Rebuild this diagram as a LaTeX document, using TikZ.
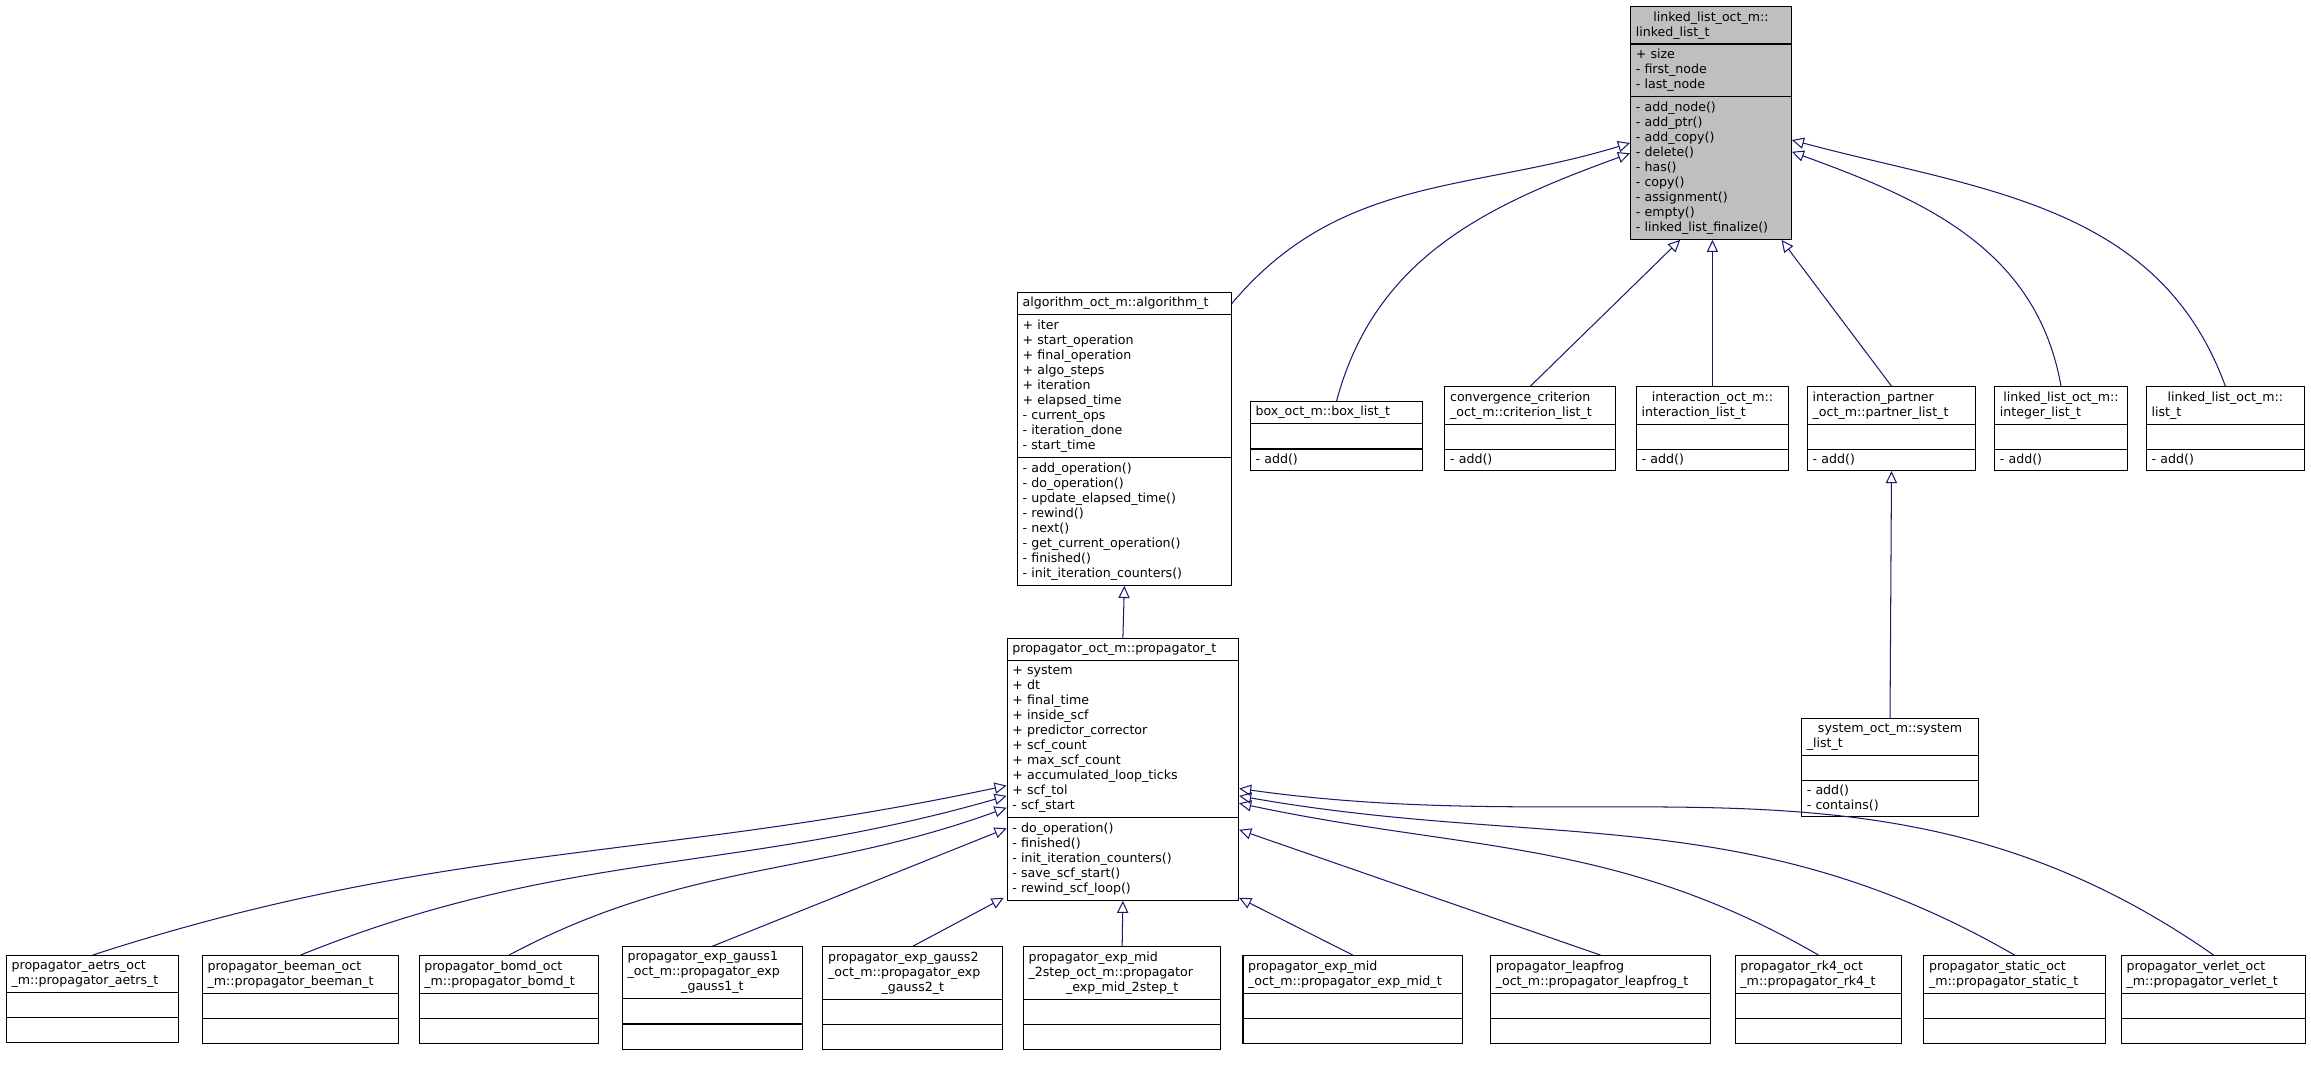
\documentclass[tikz,border=0pt]{standalone}
\usepackage{fontspec}
\setmainfont{DejaVu Sans}
\usetikzlibrary{shapes.multipart,arrows.meta,calc}
\definecolor{edgeblue}{HTML}{191970}
\definecolor{hlgray}{HTML}{BFBFBF}
\newcommand{\midline}[1]{\par{\centering #1\par}}
\tikzset{
	cls/.style={draw,line width=0.6pt,rectangle split,rectangle split parts=3,anchor=north west,
		align=left,inner xsep=3pt,inner ysep=2.6pt,
		font={\fontsize{7.3}{8.7}\selectfont},fill=white},
	inh/.style={edgeblue,line width=0.6pt,-{Triangle[open,length=7pt,width=6.5pt]}}
}
\begin{document}
\begin{tikzpicture}[x=0.03cm,y=-0.03cm]
	\useasboundingbox (0,0) rectangle (1568,723);
	% base class
	\node[cls,fill=hlgray,text width=3.06cm] (ll) at (1106,4) {\centering linked\_list\_oct\_m::\par linked\_list\_t
		\nodepart{two}+ size\\- first\_node\\- last\_node
		\nodepart{three}- add\_node()\\- add\_ptr()\\- add\_copy()\\- delete()\\- has()\\- copy()\\- assignment()\\- empty()\\- linked\_list\_finalize()};
	\node[cls,text width=4.14cm] (alg) at (690,198) {\centering algorithm\_oct\_m::algorithm\_t
		\nodepart{two}+ iter\\+ start\_operation\\+ final\_operation\\+ algo\_steps\\+ iteration\\+ elapsed\_time\\- current\_ops\\- iteration\_done\\- start\_time
		\nodepart{three}- add\_operation()\\- do\_operation()\\- update\_elapsed\_time()\\- rewind()\\- next()\\- get\_current\_operation()\\- finished()\\- init\_iteration\_counters()};
	\node[cls,text width=3.30cm] (box) at (848,272) {\centering box\_oct\_m::box\_list\_t \nodepart{two}\strut \nodepart{three}- add()};
	\node[cls,text width=3.27cm] (conv) at (980,262) {convergence\_criterion\\\_oct\_m::criterion\_list\_t \nodepart{two}\strut \nodepart{three}- add()};
	\node[cls,text width=2.88cm] (inter) at (1110,262) {\centering interaction\_oct\_m::\par interaction\_list\_t \nodepart{two}\strut \nodepart{three}- add()};
	\node[cls,text width=3.21cm] (partner) at (1226,262) {interaction\_partner\\\_oct\_m::partner\_list\_t \nodepart{two}\strut \nodepart{three}- add()};
	\node[cls,text width=2.49cm] (intlist) at (1353,262) {\centering linked\_list\_oct\_m::\par integer\_list\_t \nodepart{two}\strut \nodepart{three}- add()};
	\node[cls,text width=3.00cm] (list) at (1456,262) {\centering linked\_list\_oct\_m::\par list\_t \nodepart{two}\strut \nodepart{three}- add()};
	\node[cls,text width=3.39cm] (sys) at (1222,487) {\centering system\_oct\_m::system\par \_list\_t \nodepart{two}\strut \nodepart{three}- add()\\- contains()};
	\node[cls,text width=4.50cm] (prop) at (683,433) {\centering propagator\_oct\_m::propagator\_t
		\nodepart{two}+ system\\+ dt\\+ final\_time\\+ inside\_scf\\+ predictor\_corrector\\+ scf\_count\\+ max\_scf\_count\\+ accumulated\_loop\_ticks\\+ scf\_tol\\- scf\_start
		\nodepart{three}- do\_operation()\\- finished()\\- init\_iteration\_counters()\\- save\_scf\_start()\\- rewind\_scf\_loop()};
	% propagators
	\node[cls,text width=3.30cm] (aetrs) at (4,648) {propagator\_aetrs\_oct\\\_m::propagator\_aetrs\_t \nodepart{two}\strut \nodepart{three}\strut};
	\node[cls,text width=3.78cm] (beeman) at (137,648) {propagator\_beeman\_oct\\\_m::propagator\_beeman\_t \nodepart{two}\strut \nodepart{three}\strut};
	\node[cls,text width=3.45cm] (bomd) at (284,648) {propagator\_bomd\_oct\\\_m::propagator\_bomd\_t \nodepart{two}\strut \nodepart{three}\strut};
	\node[cls,text width=3.45cm] (gaussone) at (422,642) {propagator\_exp\_gauss1\\\_oct\_m::propagator\_exp\midline{\_gauss1\_t} \nodepart{two}\strut \nodepart{three}\strut};
	\node[cls,text width=3.45cm] (gausstwo) at (558,642) {propagator\_exp\_gauss2\\\_oct\_m::propagator\_exp\midline{\_gauss2\_t} \nodepart{two}\strut \nodepart{three}\strut};
	\node[cls,text width=3.81cm] (midtwo) at (694,642) {propagator\_exp\_mid\\\_2step\_oct\_m::propagator\midline{\_exp\_mid\_2step\_t} \nodepart{two}\strut \nodepart{three}\strut};
	\node[cls,text width=4.26cm] (expmid) at (843,648) {propagator\_exp\_mid\\\_oct\_m::propagator\_exp\_mid\_t \nodepart{two}\strut \nodepart{three}\strut};
	\node[cls,text width=4.26cm] (leap) at (1011,648) {propagator\_leapfrog\\\_oct\_m::propagator\_leapfrog\_t \nodepart{two}\strut \nodepart{three}\strut};
	\node[cls,text width=3.18cm] (rkfour) at (1177,648) {propagator\_rk4\_oct\\\_m::propagator\_rk4\_t \nodepart{two}\strut \nodepart{three}\strut};
	\node[cls,text width=3.48cm] (static) at (1305,648) {propagator\_static\_oct\\\_m::propagator\_static\_t \nodepart{two}\strut \nodepart{three}\strut};
	\node[cls,text width=3.54cm] (verlet) at (1439,648) {propagator\_verlet\_oct\\\_m::propagator\_verlet\_t \nodepart{two}\strut \nodepart{three}\strut};

	% inheritance
	\draw[inh] ($(alg.north east)+(0,8)$) to[out=50,in=197] ($(ll.north west)+(0,93)$);
	\draw[inh] (box.north) to[out=75,in=200] ($(ll.north west)+(0,100)$);
	\draw[inh] (conv.north) -- ($(ll.south west)+(34,0)$);
	\draw[inh] (inter.north) -- (ll.south -| inter.north);
	\draw[inh] (partner.north) -- ($(ll.south east)+(-7,0)$);
	\draw[inh] (intlist.north) to[out=100,in=-20] ($(ll.north east)+(0,99)$);
	\draw[inh] (list.north) to[out=110,in=-15] ($(ll.north east)+(0,91)$);
	\draw[inh] (prop.north) -- (alg.south);
	\draw[inh] (sys.north) -- (partner.south);
	\draw[inh] (aetrs.north) to[out=18,in=192] ($(prop.north west)+(0,100)$);
	\draw[inh] (beeman.north) to[out=22,in=196] ($(prop.north west)+(0,107)$);
	\draw[inh] (bomd.north) to[out=28,in=200] ($(prop.north west)+(0,115)$);
	\draw[inh] (gaussone.north) -- ($(prop.north west)+(0,129)$);
	\draw[inh] (gausstwo.north) -- ($(prop.south west)+(-2,-2)$);
	\draw[inh] (midtwo.north) -- (prop.south);
	\draw[inh] (expmid.north) -- ($(prop.south east)+(0,-2)$);
	\draw[inh] (leap.north) -- ($(prop.north east)+(0,130)$);
	\draw[inh] (rkfour.north) to[out=150,in=-12] ($(prop.north east)+(0,112)$);
	\draw[inh] (static.north) to[out=150,in=-10] ($(prop.north east)+(0,107)$);
	\draw[inh] (verlet.north) to[out=145,in=-8] ($(prop.north east)+(0,102)$);
\end{tikzpicture}
\end{document}
